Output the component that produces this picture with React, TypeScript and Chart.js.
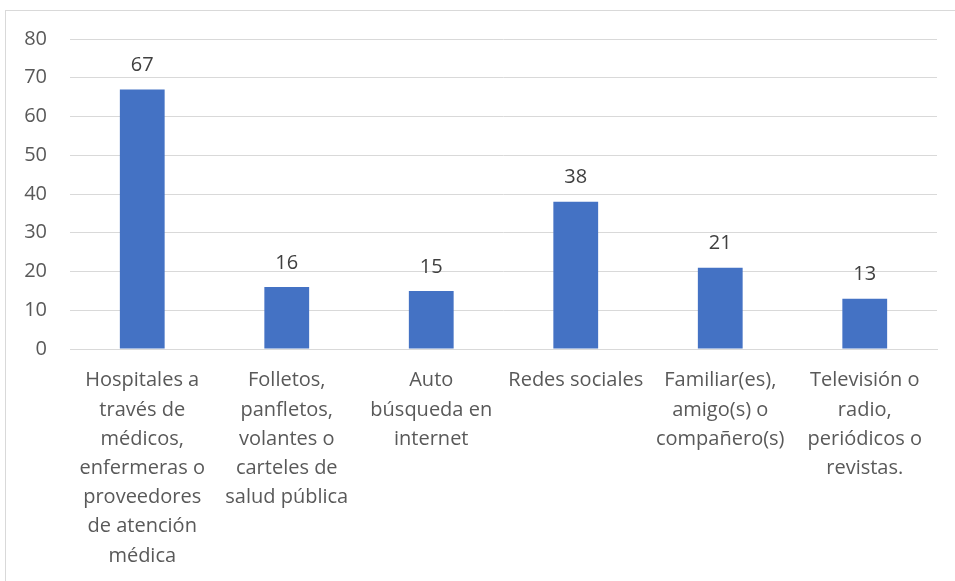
import React, { useEffect, useRef } from "react";
import { Chart, registerables } from "chart.js";

Chart.register(...registerables);

const categories: string[][] = [
  ["Hospitales a", "través de", "médicos,", "enfermeras o", "proveedores", "de atención", "médica"],
  ["Folletos,", "panfletos,", "volantes o", "carteles de", "salud pública"],
  ["Auto", "búsqueda en", "internet"],
  ["Redes sociales"],
  ["Familiar(es),", "amigo(s) o", "compañero(s)"],
  ["Televisión o", "radio,", "periódicos o", "revistas."],
];
const values: number[] = [67, 16, 15, 38, 21, 13];
const yTicks: number[] = [0, 10, 20, 30, 40, 50, 60, 70, 80];

const FONT = "'Open Sans', sans-serif";

const frame = {
  id: "frame",
  beforeDraw(chart: any) {
    const ctx = chart.ctx;
    ctx.save();
    ctx.fillStyle = "#ffffff";
    ctx.fillRect(0, 0, chart.width, chart.height);
    ctx.strokeStyle = "#D9D9D9";
    ctx.lineWidth = 1;
    ctx.strokeRect(5.5, 10.5, chart.width + 10, chart.height + 10);
    ctx.restore();
  },
};

const valueLabels = {
  id: "valueLabels",
  afterDatasetsDraw(chart: any) {
    const ctx = chart.ctx;
    const meta = chart.getDatasetMeta(0);
    ctx.save();
    ctx.font = `20px ${FONT}`;
    ctx.fillStyle = "#404040";
    ctx.textAlign = "center";
    ctx.textBaseline = "middle";
    meta.data.forEach((el: any, i: number) => {
      ctx.fillText(String(chart.data.datasets[0].data[i]), el.x, el.y - 24);
    });
    ctx.restore();
  },
};

export default function App() {
  const ref = useRef<HTMLCanvasElement>(null);
  useEffect(() => {
    if (!ref.current) return;
    const chart = new Chart(ref.current, {
      type: "bar",
      data: {
        labels: categories,
        datasets: [
          {
            data: values,
            backgroundColor: "#4472C4",
            barPercentage: 0.31,
            categoryPercentage: 1,
          },
        ],
      },
      options: {
        animation: false,
        responsive: false,
        devicePixelRatio: 1,
        layout: { padding: { left: 0, right: 18, top: 39, bottom: 0 } },
        plugins: { legend: { display: false }, tooltip: { enabled: false } },
        scales: {
          x: {
            grid: { display: false, drawTicks: false },
            border: { display: true, color: "#D9D9D9", width: 1 },
            ticks: {
              color: "#595959",
              font: { family: FONT, size: 20, lineHeight: 1.46 },
              padding: 17,
              maxRotation: 0,
              autoSkip: false,
            },
            afterFit(scale: any) {
              scale.height = 232;
            },
          },
          y: {
            min: 0,
            max: 80,
            afterBuildTicks(scale: any) {
              scale.ticks = yTicks.map((v) => ({ value: v }));
            },
            grid: { color: "#D9D9D9", drawTicks: false },
            border: { display: false },
            ticks: {
              color: "#595959",
              font: { family: FONT, size: 20 },
              padding: 23,
            },
            afterFit(scale: any) {
              scale.width = 70;
            },
          },
        },
      },
      plugins: [frame, valueLabels],
    });
    return () => chart.destroy();
  }, []);
  return (
    <div style={{ position: "fixed", left: 0, top: 0, width: 955, height: 581 }}>
      <canvas ref={ref} width={955} height={581} style={{ width: 955, height: 581 }} />
    </div>
  );
}
